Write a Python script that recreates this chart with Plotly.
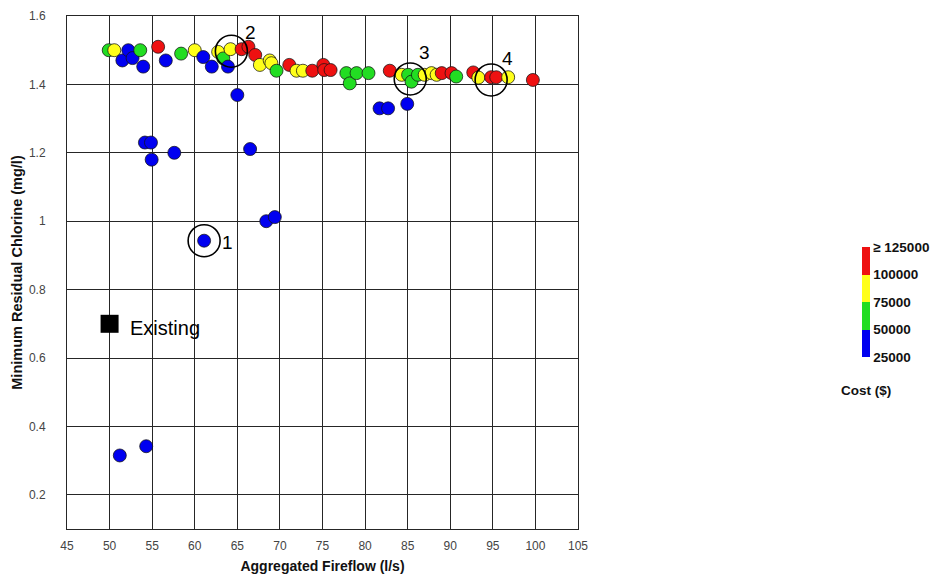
import plotly.graph_objects as go

# Candidate designs: aggregated fireflow (l/s), minimum residual chlorine (mg/l), cost ($)
fireflow = [
    49.9, 50.55, 51.2, 51.5, 52.2, 52.7, 53.6, 53.95, 54.15, 54.3,
    54.86, 54.94, 55.7, 56.6, 57.6, 58.4, 60.0, 61.0, 61.1, 62.0,
    62.75, 63.35, 63.9, 64.2, 65.0, 65.5, 66.3, 66.5, 67.1, 67.65,
    68.4, 68.8, 69.0, 69.4, 69.6, 71.1, 71.95, 72.7, 73.8, 75.1,
    75.2, 75.95, 77.8, 78.2, 79.0, 80.4, 81.7, 82.7, 82.9, 84.3,
    84.95, 85.05, 85.45, 86.2, 87.0, 87.8, 88.4, 89.0, 90.15, 90.7,
    92.7, 93.3, 94.8, 95.4, 96.8, 99.7,
]
chlorine = [
    1.50, 1.50, 0.315, 1.47, 1.50, 1.477, 1.50, 1.452, 1.23, 0.342,
    1.23, 1.18, 1.51, 1.47, 1.20, 1.49, 1.50, 1.48, 0.943, 1.452,
    1.495, 1.476, 1.452, 1.503, 1.369, 1.503, 1.51, 1.211, 1.486, 1.457,
    1.00, 1.47, 1.462, 1.012, 1.44, 1.457, 1.44, 1.44, 1.44, 1.457,
    1.442, 1.442, 1.433, 1.403, 1.433, 1.433, 1.33, 1.33, 1.44, 1.428,
    1.343, 1.428, 1.408, 1.428, 1.428, 1.433, 1.428, 1.433, 1.433, 1.423,
    1.435, 1.42, 1.421, 1.421, 1.421, 1.413,
]
cost = [
    62000, 88000, 38000, 38000, 38000, 38000, 62000, 38000, 38000, 38000,
    38000, 38000, 112000, 38000, 38000, 62000, 88000, 38000, 38000, 38000,
    88000, 62000, 38000, 88000, 38000, 112000, 112000, 38000, 112000, 88000,
    38000, 88000, 88000, 38000, 62000, 112000, 88000, 88000, 112000, 112000,
    112000, 112000, 62000, 62000, 62000, 62000, 38000, 38000, 112000, 88000,
    38000, 62000, 62000, 62000, 88000, 88000, 88000, 112000, 112000, 62000,
    112000, 88000, 112000, 112000, 88000, 112000,
]

# Existing network
existing_fireflow = [50.0]
existing_chlorine = [0.70]

# Highlighted solutions
highlight_label = ["1", "2", "3", "4"]
highlight_x = [61.1, 64.3, 85.3, 94.8]
highlight_y = [0.943, 1.497, 1.416, 1.413]
label_x = [63.8, 66.5, 87.0, 96.7]
label_y = [0.937, 1.551, 1.493, 1.476]

# Cost bands for the colour bar
cost_ticks = [25000, 50000, 75000, 100000, 125000]
cost_tick_text = ["25000", "50000", "75000", "100000", "\u2265 125000"]

x_ticks = list(range(45, 106, 5))

BLUE, GREEN, YELLOW, RED = "#0000f0", "#22dd22", "#ffff1a", "#ee1111"
band_scale = [
    [0.0, BLUE], [0.25, BLUE],
    [0.25, GREEN], [0.5, GREEN],
    [0.5, YELLOW], [0.75, YELLOW],
    [0.75, RED], [1.0, RED],
]

FONT = "Arial, Liberation Sans, sans-serif"

fig = go.Figure()

fig.add_trace(go.Scatter(
    x=fireflow, y=chlorine, mode="markers",
    marker=dict(
        size=13, color=cost, colorscale=band_scale, cmin=25000, cmax=125000,
        line=dict(color="rgba(20,20,20,0.75)", width=1),
        colorbar=dict(
            x=(862 - 67) / 511, xanchor="left", xref="paper",
            y=1 - (302 - 16) / 513, yanchor="middle",
            len=110, lenmode="pixels", thickness=8, thicknessmode="pixels",
            outlinewidth=0, xpad=0, ypad=0, ticks="",
            tickvals=cost_ticks, ticktext=cost_tick_text,
            tickfont=dict(family=FONT, size=13.5, color="#111", weight="bold"),
        ),
    ),
    showlegend=False, hoverinfo="x+y",
))

fig.add_trace(go.Scatter(
    x=existing_fireflow, y=existing_chlorine, mode="markers",
    marker=dict(symbol="square", size=18, color="black"),
    showlegend=False,
))

fig.add_annotation(
    x=existing_fireflow[0] + 2.2, y=existing_chlorine[0] - 0.011,
    text="Existing", showarrow=False, xanchor="left", yanchor="middle",
    font=dict(family=FONT, size=20, color="black"),
)

shapes = []
for hx, hy in zip(highlight_x, highlight_y):
    shapes.append(dict(
        type="circle", xref="x", yref="y",
        xsizemode="pixel", ysizemode="pixel",
        xanchor=hx, yanchor=hy, x0=-16, x1=16, y0=-16, y1=16,
        line=dict(color="black", width=1.6),
    ))
for lab, lx, ly in zip(highlight_label, label_x, label_y):
    fig.add_annotation(
        x=lx, y=ly, text=lab, showarrow=False,
        xanchor="center", yanchor="middle",
        font=dict(family=FONT, size=19, color="black"),
    )

# cost caption under the colour bar
fig.add_annotation(
    x=(866 - 67) / 511, y=1 - (390 - 16) / 513, xref="paper", yref="paper",
    text="<b>Cost ($)</b>", showarrow=False,
    xanchor="center", yanchor="middle",
    font=dict(family=FONT, size=13.5, color="#111"),
)

axis_common = dict(
    showgrid=True, gridcolor="#262626", gridwidth=1,
    showline=True, linecolor="#262626", linewidth=1, mirror=True,
    zeroline=False, ticks="",
    tickfont=dict(family=FONT, size=12, color="#444"),
)

fig.update_xaxes(
    range=[45, 105], tickvals=x_ticks, ticklabelstandoff=6,
    title=dict(text="Aggregated Fireflow (l/s)", standoff=8,
               font=dict(family=FONT, size=14, color="#111", weight="bold")),
    **axis_common,
)
fig.update_yaxes(
    range=[0.1, 1.6], tick0=0, dtick=0.2, ticklabelstandoff=18,
    title=dict(text="Minimum Residual Chlorine (mg/l)", standoff=2,
               font=dict(family=FONT, size=14.5, color="#111", weight="bold")),
    **axis_common,
)

fig.update_layout(
    width=940, height=576,
    margin=dict(l=67, r=362, t=16, b=47, autoexpand=False),
    paper_bgcolor="white", plot_bgcolor="white",
    shapes=shapes,
    font=dict(family=FONT),
)

fig.write_html("out.html")
